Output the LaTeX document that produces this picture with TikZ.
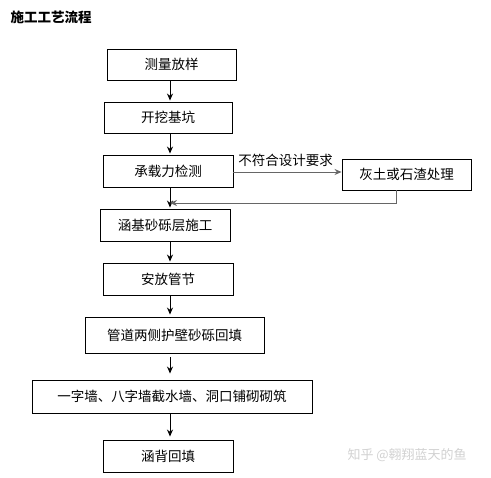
\documentclass[tikz,border=0pt]{standalone}
\usepackage{fontspec}
\setmainfont{Noto Sans CJK SC}
\usetikzlibrary{arrows.meta}

\tikzset{
  stepbox/.style={draw, line width=0.9pt, inner sep=0pt, font=\fontsize{13.5}{16}\selectfont},
  flow/.style={-{Stealth[length=7pt,width=6pt]}, line width=0.9pt},
  back/.style={flow, color=black!60, line width=0.8pt}
}

\begin{document}
\begin{tikzpicture}[x=1pt, y=-1pt]
\useasboundingbox (0,0) rectangle (491,478);

\node[font=\fontsize{13.5}{16}\selectfont\bfseries, anchor=west] (Title) at (7, 17) {施工工艺流程};

\node[stepbox, minimum width=129pt, minimum height=31pt] (Survey) at (171.5, 64.5) {测量放样};
\node[stepbox, minimum width=128pt, minimum height=31pt] (Dig) at (168, 117.5) {开挖基坑};
\node[stepbox, minimum width=130pt, minimum height=32pt] (Test) at (168, 171) {承载力检测};
\node[stepbox, minimum width=129pt, minimum height=31pt] (Treat) at (406.5, 174.5) {灰土或石渣处理};
\node[stepbox, minimum width=130pt, minimum height=32pt] (Base) at (165, 225) {涵基砂砾层施工};
\node[stepbox, minimum width=130pt, minimum height=32pt] (Pipe) at (168, 279) {安放管节};
\node[stepbox, minimum width=179pt, minimum height=36pt] (Fill) at (174.5, 335) {管道两侧护壁砂砾回填};
\node[stepbox, minimum width=280pt, minimum height=33pt] (Wall) at (172, 396.5) {一字墙、八字墙截水墙、洞口铺砌砌筑};
\node[stepbox, minimum width=130pt, minimum height=32pt] (Back) at (168, 456) {涵背回填};

\coordinate (Axis) at (170, 0);
\coordinate (Turn) at (396, 203);

\draw[flow, shorten >=1pt] (Survey.south -| Axis) -- (Dig.north -| Axis);
\draw[flow, shorten >=1pt] (Dig.south -| Axis) -- (Test.north -| Axis);
\draw[flow, shorten >=1pt] (Test.south -| Axis) -- (Base.north -| Axis);
\draw[flow, shorten >=1pt] (Base.south -| Axis) -- (Pipe.north -| Axis);
\draw[flow, shorten >=2pt] (Pipe.south -| Axis) -- (Fill.north -| Axis);
\draw[flow, shorten <=4pt, shorten >=6pt] (Fill.south -| Axis) -- (Wall.north -| Axis);
\draw[flow, shorten >=3pt] (Wall.south -| Axis) -- (Back.north -| Axis);

\draw[back] (Test.east |- 0,172) -- node[above, font=\fontsize{13.5}{16}\selectfont, text=black, xshift=-2pt, yshift=2pt] {不符合设计要求} (Treat.west |- 0,172);
\draw[back] (Treat.south -| Turn) -- (Turn) -- (Axis |- Turn);

\node[font=\fontsize{13}{15}\selectfont, text=black!18, anchor=west] (Mark) at (344, 455) {知乎 @翱翔蓝天的鱼};
\end{tikzpicture}
\end{document}
